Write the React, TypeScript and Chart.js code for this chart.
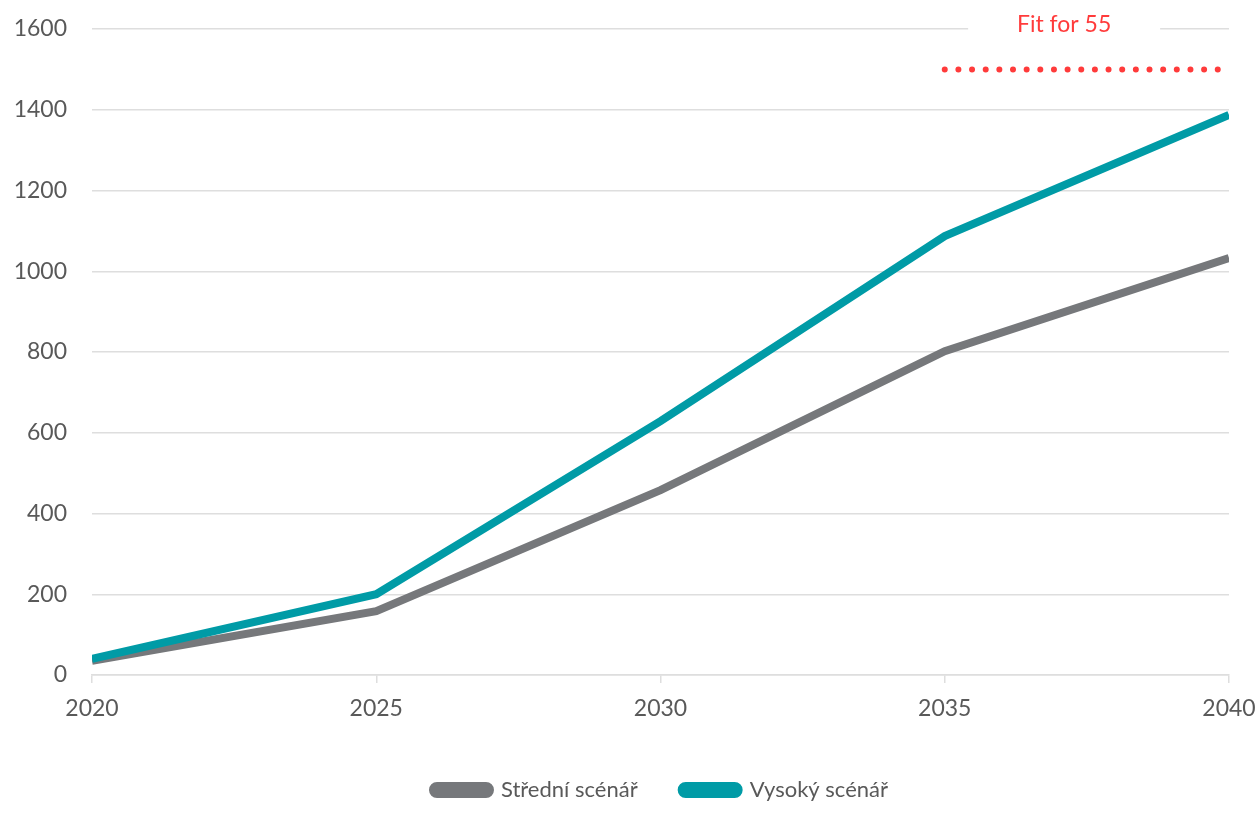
import React, { useEffect, useRef } from "react";
import { Chart, registerables } from "chart.js";

Chart.register(...registerables);

const years = [2020, 2025, 2030, 2035, 2040];
const stredniValues = [35, 158, 458, 802, 1033];
const vysokyValues = [40, 200, 629, 1087, 1387];
const fitYears = [2035, 2040];
const fitValues = [1500, 1500];
const fitLabel = "Fit for 55";
const fitLabelX = 2037.1;
const fitLabelY = 1612;
const seriesLabels = ["Střední scénář", "Vysoký scénář"];

const FONT = "Lato, 'Open Sans', sans-serif";
const GRID = "#DEDEDE";
const TEXT = "#595959";
const GRAY = "#76787B";
const TEAL = "#009BA6";
const RED = "#FF3B3B";

const fitLabelPlugin = {
  id: "fitLabel",
  afterDraw(chart: any) {
    const { ctx, scales } = chart;
    const x = scales.x.getPixelForValue(fitLabelX);
    const y = scales.y.getPixelForValue(fitLabelY);
    ctx.save();
    ctx.fillStyle = "#FFFFFF";
    ctx.fillRect(x - 96, y - 15, 192, 30);
    ctx.font = `23px ${FONT}`;
    ctx.fillStyle = RED;
    ctx.textAlign = "center";
    ctx.textBaseline = "middle";
    ctx.fillText(fitLabel, x, y);
    ctx.restore();
  },
};

export default function App() {
  const ref = useRef<HTMLCanvasElement | null>(null);

  useEffect(() => {
    if (!ref.current) return;
    const chart = new Chart(ref.current, {
      type: "line",
      data: {
        datasets: [
          {
            label: seriesLabels[0],
            data: years.map((x, i) => ({ x, y: stredniValues[i] })),
            borderColor: GRAY,
            backgroundColor: GRAY,
            borderWidth: 8,
            pointRadius: 0,
            tension: 0,
            order: 0,
          },
          {
            label: seriesLabels[1],
            data: years.map((x, i) => ({ x, y: vysokyValues[i] })),
            borderColor: TEAL,
            backgroundColor: TEAL,
            borderWidth: 8,
            pointRadius: 0,
            tension: 0,
            order: -1,
          },
          {
            label: fitLabel,
            data: fitYears.map((x, i) => ({ x, y: fitValues[i] })),
            borderColor: RED,
            backgroundColor: RED,
            borderWidth: 6,
            borderDash: [0, 13.65],
            borderCapStyle: "round",
            pointRadius: 0,
            tension: 0,
            order: 1,
          },
        ],
      },
      options: {
        animation: false,
        responsive: true,
        maintainAspectRatio: false,
        layout: { padding: { left: 0, right: 31, top: 29, bottom: 20 } },
        plugins: {
          tooltip: { enabled: false },
          legend: {
            position: "bottom",
            fullSize: false,
            labels: {
              filter: (item: any) => item.datasetIndex !== 2,
              sort: (a: any, b: any) => a.datasetIndex - b.datasetIndex,
              boxWidth: 57,
              boxHeight: 8,
              useBorderRadius: true,
              borderRadius: 4,
              padding: 44,
              color: TEXT,
              font: { family: FONT, size: 22 },
            },
          },
        },
        scales: {
          x: {
            type: "linear",
            min: 2020,
            max: 2040,
            afterFit: (s: any) => {
              s.height = 60;
              s.paddingLeft = 0;
              s.paddingRight = 0;
            },
            ticks: {
              stepSize: 5,
              padding: 12,
              color: TEXT,
              font: { family: FONT, size: 23 },
              callback: (v: any) => String(v),
            },
            grid: {
              drawOnChartArea: false,
              drawTicks: true,
              tickLength: 8,
              color: GRID,
              lineWidth: 1.5,
            },
            border: { display: true, color: GRID, width: 1.5 },
          },
          y: {
            min: 0,
            max: 1600,
            afterFit: (s: any) => {
              s.width = 92;
              s.paddingTop = 0;
              s.paddingBottom = 0;
            },
            ticks: {
              stepSize: 200,
              padding: 25,
              color: TEXT,
              font: { family: FONT, size: 23 },
              callback: (v: any) => String(v),
            },
            grid: {
              drawTicks: false,
              color: GRID,
              lineWidth: 1.5,
            },
            border: { display: false },
          },
        },
      },
      plugins: [fitLabelPlugin],
    } as any);
    return () => chart.destroy();
  }, []);

  return (
    <div style={{ position: "fixed", left: 0, top: 0, width: 1260, height: 831, background: "#fff" }}>
      <canvas ref={ref} />
    </div>
  );
}
